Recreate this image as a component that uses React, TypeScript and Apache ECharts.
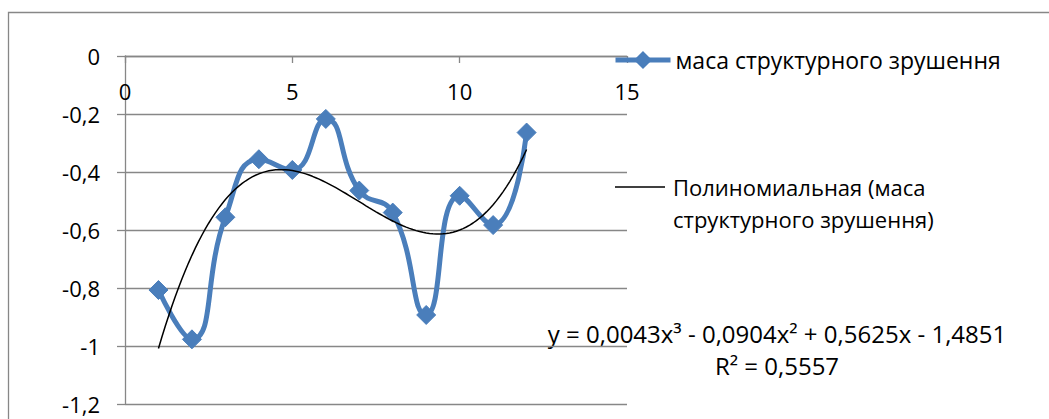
import React, { useEffect, useRef } from "react";
import * as echarts from "echarts";

const xValues = [1, 2, 3, 4, 5, 6, 7, 8, 9, 10, 11, 12];
const yValues = [-0.807, -0.977, -0.556, -0.356, -0.393, -0.217, -0.464, -0.54, -0.893, -0.482, -0.583, -0.264];
const trendCoefficients = [0.0043, -0.0904, 0.5625, -1.4851]; // x^3, x^2, x, 1
const seriesName = "маса структурного зрушення";
const trendName = "Полиномиальная (маса структурного зрушення)";
const trendLegendLines = ["Полиномиальная (маса", "структурного зрушення)"];
const equationText = "y = 0,0043x³ - 0,0904x² + 0,5625x - 1,4851";
const r2Text = "R² = 0,5557";

const FONT = "'Open Sans', 'Noto Sans', sans-serif";
const GRAY = "#878787";
const BLUE = "#4A7EBB";

export default function App() {
  const ref = useRef<HTMLDivElement>(null);
  useEffect(() => {
    if (!ref.current) return;
    const chart = echarts.init(ref.current, null, { renderer: "svg" });
    const data = xValues.map((x, i) => [x, yValues[i]]);
    const trend: number[][] = [];
    for (let k = 0; k <= 110; k++) {
      const x = xValues[0] + k * 0.1;
      const [a, b, c, d] = trendCoefficients;
      trend.push([x, a * x * x * x + b * x * x + c * x + d]);
    }
    chart.setOption({
      animation: false,
      backgroundColor: "#ffffff",
      textStyle: { fontFamily: FONT },
      grid: { left: 125, right: 422, top: 56, bottom: 15 },
      xAxis: {
        type: "value",
        position: "top",
        min: 0,
        max: 15,
        interval: 5,
        axisLine: { show: true, onZero: false, lineStyle: { color: GRAY, width: 1.3 } },
        axisTick: { show: true, inside: true, length: 7, lineStyle: { color: GRAY, width: 1.3 } },
        axisLabel: { inside: true, margin: 24, color: "#000", fontSize: 22, fontFamily: FONT },
        splitLine: { show: false },
      },
      yAxis: {
        type: "value",
        min: -1.2,
        max: 0,
        interval: 0.2,
        axisLine: { show: true, lineStyle: { color: GRAY, width: 1.3 } },
        axisTick: { show: true, inside: false, length: 8, lineStyle: { color: GRAY, width: 1.3 } },
        axisLabel: {
          margin: 25,
          color: "#000",
          fontSize: 22,
          fontFamily: FONT,
          formatter: (v: number) => String(Math.round(v * 10) / 10).replace(".", ","),
        },
        splitLine: { show: true, lineStyle: { color: GRAY, width: 1.3 } },
      },
      legend: [
        {
          data: [seriesName],
          left: 613,
          top: 45,
          padding: 0,
          itemWidth: 55,
          itemHeight: 19,
          lineStyle: { width: 5 },
          textStyle: { fontSize: 23, color: "#000", fontFamily: FONT, lineHeight: 30 },
        },
        {
          data: [{ name: trendName, icon: "rect" }],
          left: 615,
          top: 139,
          padding: 0,
          itemWidth: 50,
          itemHeight: 1.5,
          itemStyle: { color: "#000" },
          formatter: () => " \n" + trendLegendLines.join("\n"),
          textStyle: { fontSize: 22, color: "#000", fontFamily: FONT, lineHeight: 32, padding: [0, 0, 0, 3] },
        },
      ],
      series: [
        {
          name: seriesName,
          type: "line",
          data,
          smooth: 0.5,
          symbol: "diamond",
          symbolSize: 19,
          lineStyle: { color: BLUE, width: 5 },
          itemStyle: { color: BLUE, borderColor: BLUE, borderWidth: 1 },
          z: 2,
        },
        {
          name: trendName,
          type: "line",
          data: trend,
          smooth: false,
          symbol: "none",
          lineStyle: { color: "#000", width: 1.5 },
          itemStyle: { color: "#000" },
          z: 3,
        },
      ],
      graphic: [
        {
          type: "rect",
          shape: { x: 8.5, y: 12.5, width: 1100, height: 600 },
          style: { fill: "none", stroke: GRAY, lineWidth: 1.3 },
          silent: true,
        },
        {
          type: "text",
          x: 777,
          y: 333,
          style: { text: equationText, fill: "#000", font: `24px ${FONT}`, textAlign: "center", textVerticalAlign: "middle" },
        },
        {
          type: "text",
          x: 777,
          y: 365,
          style: { text: r2Text, fill: "#000", font: `24px ${FONT}`, textAlign: "center", textVerticalAlign: "middle" },
        },
      ],
    });
    return () => chart.dispose();
  }, []);
  return (
    <div
      ref={ref}
      style={{ position: "fixed", left: 0, top: 0, width: 1049, height: 419 }}
    />
  );
}
